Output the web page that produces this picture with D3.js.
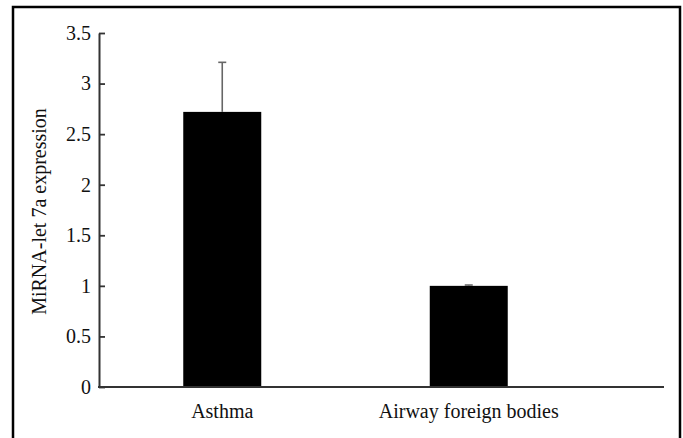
<!DOCTYPE html>
<html>
<head>
<meta charset="utf-8">
<script src="https://cdn.jsdelivr.net/npm/d3@7/dist/d3.min.js"></script>
<style>
  html, body { margin: 0; padding: 0; background: #fff; }
  svg { display: block; }
  text { font-family: "Liberation Serif", "Times New Roman", serif; fill: #111; }
</style>
</head>
<body>
<svg id="chart" width="683" height="438"></svg>
<script>
// Mean miRNA-let 7a expression per group, with error (SD)
const categories = ["Asthma", "Airway foreign bodies"];
const values = [2.72, 1.0];
const errors = [0.49, 0.008];
const yTicks = [0, 0.5, 1, 1.5, 2, 2.5, 3, 3.5];
const yLabel = "MiRNA-let  7a expression";

const svg = d3.select("#chart");

// outer frame
svg.append("rect")
  .attr("x", 13).attr("y", 7)
  .attr("width", 667).attr("height", 440)
  .attr("fill", "none")
  .attr("stroke", "#000")
  .attr("stroke-width", 2.5);

const plot = { left: 99, right: 664, top: 33, bottom: 387 };

const y = d3.scaleLinear().domain([0, 3.5]).range([plot.bottom, plot.top]);

const x = d3.scaleBand()
  .domain(categories)
  .range([plot.left, plot.left + 493])
  .paddingInner(0.6836)
  .paddingOuter(0.3418);

// bars
svg.append("g").selectAll("rect")
  .data(categories)
  .join("rect")
  .attr("x", (d) => x(d))
  .attr("width", x.bandwidth())
  .attr("y", (d, i) => y(values[i]))
  .attr("height", (d, i) => y(0) - y(values[i]))
  .attr("fill", "#000");

// error bars (upper only)
const eb = svg.append("g")
  .attr("stroke", "#666")
  .attr("stroke-width", 1.6);
categories.forEach((c, i) => {
  const cx = x(c) + x.bandwidth() / 2;
  eb.append("line")
    .attr("x1", cx).attr("x2", cx)
    .attr("y1", y(values[i])).attr("y2", y(values[i] + errors[i]));
  eb.append("line")
    .attr("x1", cx - 4).attr("x2", cx + 4)
    .attr("y1", y(values[i] + errors[i])).attr("y2", y(values[i] + errors[i]));
});

// y axis with inward ticks
const yAxis = d3.axisLeft(y)
  .tickValues(yTicks)
  .tickFormat(d3.format("~g"))
  .tickSizeInner(-6)
  .tickSizeOuter(0)
  .tickPadding(8);

const gy = svg.append("g")
  .attr("transform", `translate(${plot.left},0)`)
  .call(yAxis);
gy.select(".domain").attr("stroke", "#333").attr("stroke-width", 2);
gy.selectAll(".tick line").attr("stroke", "#333").attr("stroke-width", 1.8);
gy.selectAll(".tick text")
  .attr("font-family", "Liberation Serif, serif")
  .attr("font-size", 20)
  .attr("fill", "#111");

// x axis baseline spanning the full plot width
svg.append("line")
  .attr("x1", plot.left - 1).attr("x2", plot.right)
  .attr("y1", y(0)).attr("y2", y(0))
  .attr("stroke", "#333").attr("stroke-width", 2);

// category labels
svg.append("g").selectAll("text")
  .data(categories)
  .join("text")
  .attr("x", (d) => x(d) + x.bandwidth() / 2)
  .attr("y", 418)
  .attr("text-anchor", "middle")
  .attr("font-size", 20)
  .text((d) => d);

// y axis title
svg.append("text")
  .attr("transform", `translate(46,${(108 + 315) / 2}) rotate(-90)`)
  .attr("text-anchor", "middle")
  .attr("font-size", 20)
  .text(yLabel);
</script>
</body>
</html>
